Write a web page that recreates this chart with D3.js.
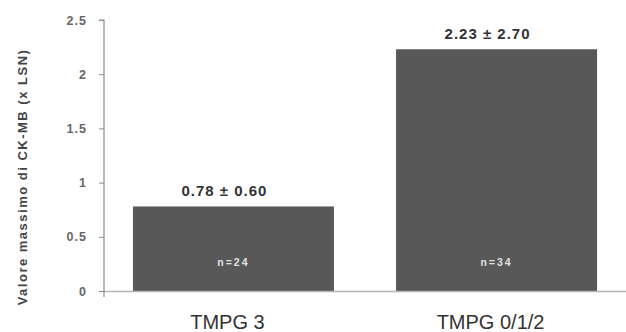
<!DOCTYPE html>
<html>
<head>
<meta charset="utf-8">
<script src="https://cdn.jsdelivr.net/npm/d3@7"></script>
<style>
  html, body { margin: 0; padding: 0; background: #fff; }
  svg { display: block; font-family: "Liberation Sans", Arial, sans-serif; }
</style>
</head>
<body>
<svg id="chart" width="626" height="332"></svg>
<script>
// CK-MB peak values by TMPG group
const categories = ["TMPG 3", "TMPG 0/1/2"];
const means = [0.78, 2.23];
const sds = [0.60, 2.70];
const counts = [24, 34];
const yTicks = [0, 0.5, 1, 1.5, 2, 2.5];
const yTitle = "Valore massimo di CK-MB (x LSN)";

const svg = d3.select("#chart");
const x0 = 104, x1 = 626, yTop = 20, yBottom = 291;

const x = d3.scaleBand().domain(categories).range([x0, x1]).paddingInner(0.236).paddingOuter(0.11);
const y = d3.scaleLinear().domain([0, 2.5]).range([yBottom, yTop]);

// bars
svg.selectAll("rect.bar").data(categories).join("rect")
  .attr("class", "bar")
  .attr("x", d => x(d))
  .attr("width", x.bandwidth())
  .attr("y", (d, i) => y(means[i]))
  .attr("height", (d, i) => y(0) - y(means[i]))
  .attr("fill", "#585858");

// x baseline
svg.append("line")
  .attr("x1", x0).attr("x2", x1)
  .attr("y1", yBottom + 0.5).attr("y2", yBottom + 0.5)
  .attr("stroke", "#b4b4b4").attr("stroke-width", 1.5);

// y axis
const yAxis = d3.axisLeft(y).tickValues(yTicks).tickSize(5).tickPadding(12)
  .tickFormat(d => d3.format("")(d));
const gy = svg.append("g").attr("transform", `translate(${x0},0)`).call(yAxis);
gy.select(".domain").attr("stroke", "#8a8a8a").attr("stroke-width", 1.2)
  .attr("d", `M-5,${yTop}H0V${yBottom + 6}`);
gy.selectAll(".tick line").attr("stroke", "#8a8a8a");
gy.selectAll(".tick text").attr("fill", "#666").attr("font-size", 12.5)
  .attr("font-weight", "bold").attr("letter-spacing", 1)
  .attr("font-family", "'Liberation Sans', Arial, sans-serif");

// y axis title
svg.append("text")
  .attr("transform", `translate(27,${177}) rotate(-90)`)
  .attr("text-anchor", "middle")
  .attr("font-size", 13).attr("font-weight", "bold").attr("fill", "#444")
  .attr("letter-spacing", 1.5)
  .text(yTitle);

// value labels
svg.selectAll("text.val").data(categories).join("text")
  .attr("class", "val")
  .attr("x", d => x(d) + x.bandwidth() / 2 - 9)
  .attr("y", (d, i) => y(means[i]) - 10)
  .attr("text-anchor", "middle")
  .attr("font-size", 15).attr("font-weight", "bold").attr("fill", "#333")
  .attr("letter-spacing", 1)
  .text((d, i) => `${means[i].toFixed(2)} ± ${sds[i].toFixed(2)}`);

// count labels inside bars
svg.selectAll("text.n").data(categories).join("text")
  .attr("class", "n")
  .attr("x", d => x(d) + x.bandwidth() / 2)
  .attr("y", 266)
  .attr("text-anchor", "middle")
  .attr("font-size", 10.5).attr("font-weight", "bold").attr("fill", "#e0e0e0")
  .attr("letter-spacing", 2)
  .text((d, i) => `n=${counts[i]}`);

// category labels
svg.selectAll("text.cat").data(categories).join("text")
  .attr("class", "cat")
  .attr("x", d => x(d) + x.bandwidth() / 2 - 6)
  .attr("y", 329)
  .attr("text-anchor", "middle")
  .attr("font-size", 20).attr("fill", "#333")
  .text(d => d);
</script>
</body>
</html>
